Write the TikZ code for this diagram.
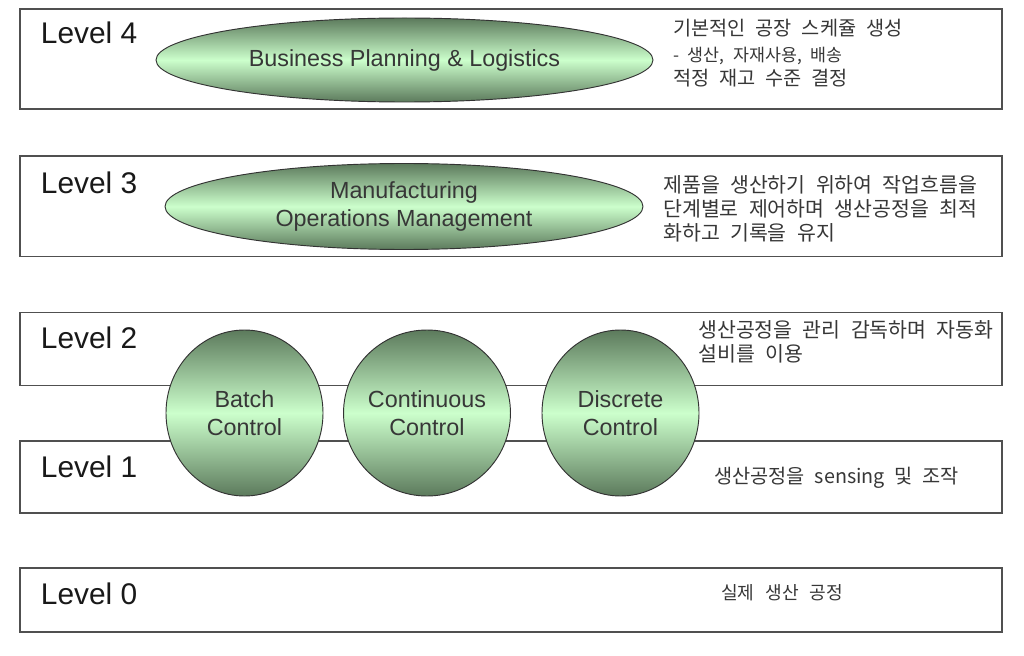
\documentclass[tikz,border=0pt]{standalone}
\usepackage{fontspec}
\setmainfont{Liberation Sans}
\newfontfamily\kr{Noto Sans CJK KR}
\usetikzlibrary{shapes.geometric}
\definecolor{dkgreen}{RGB}{92,122,92}
\definecolor{ltgreen}{RGB}{204,255,204}
\definecolor{boxline}{RGB}{80,80,80}
\definecolor{txt}{RGB}{55,55,55}
\newcommand{\krsize}[1]{\kr\fontsize{#1}{18}\selectfont\spaceskip=0.5em\relax}
\newcommand{\krwide}[1]{\kr\fontsize{#1}{18}\selectfont\spaceskip=0.6em\relax}
\begin{document}
\begin{tikzpicture}[x=0.75pt,y=-0.75pt,
  levelbox/.style={draw=boxline, line width=1pt},
  ell/.style={ellipse, draw=black!80, line width=0.7pt, top color=dkgreen, bottom color=dkgreen, middle color=ltgreen, inner sep=0pt, text=txt, align=center, font=\fontsize{17.5}{20.5}\selectfont},
  lvl/.style={anchor=base west, inner sep=0pt, font=\fontsize{22.4}{26}\selectfont, text=black!90},
  desc/.style={anchor=west, inner sep=0pt, text=txt, font=\krsize{15.4}}]
\useasboundingbox[fill=white] (0,0) rectangle (1024,656);

% level boxes
\draw[levelbox] (20,9) rectangle (1002,109);
\draw[levelbox] (20,156) rectangle (1002,256.5);
\draw[levelbox] (20,312.7) rectangle (1002,385.7);
\draw[levelbox] (20,441) rectangle (1002,513);
\draw[levelbox] (20,568) rectangle (1002,632);

% level labels
\node[lvl] (l4) at (40.7,44) {Level 4};
\node[lvl] (l3) at (40.7,193.5) {Level 3};
\node[lvl] (l2) at (40.7,348.5) {Level 2};
\node[lvl] (l1) at (40.7,477) {Level 1};
\node[lvl] (l0) at (40.7,604) {Level 0};

% ellipses
\node[ell, minimum width=372.75pt, minimum height=63pt] (bpl) at (404.5,60) {Business Planning \& Logistics};
\node[ell, minimum width=358.5pt, minimum height=64.5pt] (mom) at (404,206.5) {Manufacturing\\Operations Management};
\node[ell, minimum width=117.75pt, minimum height=124.5pt] (batch) at (244.5,413) {Batch\\Control};
\node[ell, minimum width=117.75pt, minimum height=124.5pt] (cont) at (427,413) {Continuous\\Control};
\node[ell, minimum width=117.75pt, minimum height=124.5pt] (disc) at (620.5,413) {Discrete\\Control};

% descriptions
\node[desc, font=\krsize{14.8}] (d4a) at (673,28.5) {기본적인 공장 스케쥴 생성};
\node[desc, font=\krsize{13}] (d4b) at (673,55.5) {- 생산, 자재사용, 배송};
\node[desc, font=\krsize{14.8}] (d4c) at (673,78.5) {적정 재고 수준 결정};
\node[desc] (d3a) at (663,185) {제품을 생산하기 위하여 작업흐름을};
\node[desc] (d3b) at (663,209) {단계별로 제어하며 생산공정을 최적};
\node[desc] (d3c) at (663,233) {화하고 기록을 유지};
\node[desc] (d2a) at (698,330) {생산공정을 관리 감독하며 자동화};
\node[desc] (d2b) at (698,353.5) {설비를 이용};
\node[desc, font=\krsize{14.8}] (d1) at (714,478) {생산공정을 sensing 및 조작};
\node[desc, font=\krwide{13.6}] (d0) at (721,593) {실제 생산 공정};
\end{tikzpicture}
\end{document}
